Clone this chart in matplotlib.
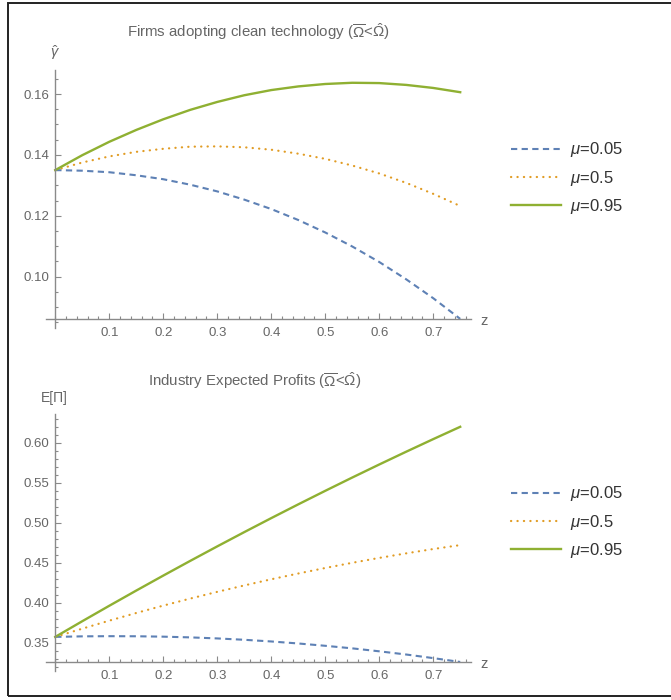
import matplotlib.pyplot as plt
from matplotlib.patches import Rectangle
from matplotlib.ticker import MultipleLocator

plt.rcParams["font.family"] = ["Liberation Sans", "DejaVu Sans"]
plt.rcParams["mathtext.fontset"] = "custom"
plt.rcParams["mathtext.rm"] = "Liberation Sans"
plt.rcParams["mathtext.it"] = "Liberation Sans:italic"

# ── Data ─────────────────────────────────────────────────────────────────────
z = [0.00, 0.05, 0.10, 0.15, 0.20, 0.25, 0.30, 0.35,
     0.40, 0.45, 0.50, 0.55, 0.60, 0.65, 0.70, 0.75]

labels = ["$\\mu$=0.05", "$\\mu$=0.5", "$\\mu$=0.95"]

# Firms adopting clean technology
gamma_005 = [0.1350, 0.1348, 0.1343, 0.1333, 0.1320, 0.1302, 0.1280, 0.1253,
             0.1222, 0.1186, 0.1145, 0.1099, 0.1048, 0.0991, 0.0929, 0.0861]
gamma_05 = [0.1350, 0.1375, 0.1395, 0.1410, 0.1420, 0.1427, 0.1428, 0.1425,
            0.1417, 0.1404, 0.1387, 0.1365, 0.1339, 0.1308, 0.1272, 0.1232]
gamma_095 = [0.1350, 0.1399, 0.1443, 0.1482, 0.1517, 0.1548, 0.1574, 0.1596,
             0.1613, 0.1625, 0.1633, 0.1637, 0.1636, 0.1630, 0.1620, 0.1606]

# Industry expected profits
prof_005 = [0.3575, 0.3582, 0.3584, 0.3583, 0.3578, 0.3569, 0.3556, 0.3539,
            0.3518, 0.3493, 0.3464, 0.3432, 0.3395, 0.3355, 0.3310, 0.3262]
prof_05 = [0.3575, 0.3678, 0.3778, 0.3874, 0.3966, 0.4054, 0.4138, 0.4218,
           0.4295, 0.4367, 0.4436, 0.4501, 0.4562, 0.4619, 0.4673, 0.4722]
prof_095 = [0.3575, 0.3771, 0.3964, 0.4154, 0.4341, 0.4525, 0.4706, 0.4884,
            0.5059, 0.5231, 0.5400, 0.5566, 0.5729, 0.5889, 0.6046, 0.6200]

# ── Styles ───────────────────────────────────────────────────────────────────
BLUE, ORANGE, GREEN = "#5e81b5", "#e19c24", "#8fb032"
AXIS_GRAY = "#8a8a8a"
TEXT_GRAY = "#666666"
W, H = 671, 700


def px(x, y):
    """pixel (from top-left) -> figure fraction"""
    return x / W, 1 - y / H


def style_axes(ax, x0, y0, ylim, major, minor):
    ax.set_xlim(-0.017, 0.77)
    ax.set_ylim(*ylim)
    for s in ("top", "right"):
        ax.spines[s].set_visible(False)
    ax.spines["left"].set_position(("data", x0))
    ax.spines["bottom"].set_position(("data", y0))
    for s in ("left", "bottom"):
        ax.spines[s].set_color(AXIS_GRAY)
        ax.spines[s].set_linewidth(1.0)
    ax.set_xticks([0.1, 0.2, 0.3, 0.4, 0.5, 0.6, 0.7])
    ax.xaxis.set_minor_locator(MultipleLocator(0.02))
    ax.yaxis.set_major_locator(MultipleLocator(major))
    ax.yaxis.set_minor_locator(MultipleLocator(minor))
    ax.tick_params(which="both", direction="in", color=AXIS_GRAY,
                   labelcolor=TEXT_GRAY, labelsize=9.5, width=0.8)
    ax.tick_params(which="major", length=4)
    ax.tick_params(axis="x", which="major", pad=6)
    ax.tick_params(axis="y", which="major", pad=4)
    ax.tick_params(which="minor", length=2.2)
    ax.patch.set_visible(False)


def draw_lines(ax, y1, y2, y3):
    h1, = ax.plot(z, y1, color=BLUE, lw=1.5, linestyle=(0, (3.0, 2.1)))
    h2, = ax.plot(z, y2, color=ORANGE, lw=1.6, linestyle=(0, (0.1, 2.8)),
                  dash_capstyle="round")
    h3, = ax.plot(z, y3, color=GREEN, lw=1.7)
    return [h1, h2, h3]


fig = plt.figure(figsize=(W / 100, H / 100), dpi=100)

# ── Top panel ────────────────────────────────────────────────────────────────
l, b = px(46.1, 328)
ax1 = fig.add_axes([l, b, 424.9 / W, 258 / H])
style_axes(ax1, 0.0, 0.0861, (0.0831, 0.1679), 0.02, 0.005)
ax1.yaxis.set_major_formatter(lambda v, p: f"{v:.2f}")
h = draw_lines(ax1, gamma_005, gamma_05, gamma_095)
ax1.set_yticks([0.10, 0.12, 0.14, 0.16])
fig.text(*px(258.5, 32), "Firms adopting clean technology ($\\overline{\\Omega}$<$\\hat{\\Omega}$)",
         ha="center", va="center", fontsize=10.8, color=TEXT_GRAY)
fig.text(*px(55, 53), "$\\hat{\\gamma}$", ha="center", va="center",
         fontsize=10.5, color=TEXT_GRAY)
fig.text(*px(484, 321), "z", ha="center", va="center", fontsize=10.5, color=TEXT_GRAY)
ax1.legend(h, labels, loc="center left", bbox_to_anchor=px(503, 178),
           bbox_transform=fig.transFigure, frameon=False, fontsize=12,
           handlelength=3.0, handletextpad=0.5, labelspacing=0.55,
           borderpad=0, labelcolor="#333333")

# ── Bottom panel ─────────────────────────────────────────────────────────────
l, b = px(46.1, 671)
ax2 = fig.add_axes([l, b, 424.9 / W, 257 / H])
style_axes(ax2, 0.0, 0.3262, (0.3149, 0.636), 0.05, 0.01)
ax2.yaxis.set_major_formatter(lambda v, p: f"{v:.2f}")
h = draw_lines(ax2, prof_005, prof_05, prof_095)
ax2.set_yticks([0.35, 0.40, 0.45, 0.50, 0.55, 0.60])
fig.text(*px(255, 381), "Industry Expected Profits ($\\overline{\\Omega}$<$\\hat{\\Omega}$)",
         ha="center", va="center", fontsize=10.8, color=TEXT_GRAY)
fig.text(*px(54, 398), "E[Π]", ha="center", va="center",
         fontsize=10, color=TEXT_GRAY)
fig.text(*px(484, 664), "z", ha="center", va="center", fontsize=10.5, color=TEXT_GRAY)
ax2.legend(h, labels, loc="center left", bbox_to_anchor=px(503, 522),
           bbox_transform=fig.transFigure, frameon=False, fontsize=12,
           handlelength=3.0, handletextpad=0.5, labelspacing=0.55,
           borderpad=0, labelcolor="#333333")

# ── Frame around the whole figure (right edge runs off the canvas) ───────────
fig.patches.append(Rectangle(px(8, 696), (680 - 8) / W, (696 - 3) / H,
                             transform=fig.transFigure, fill=False,
                             edgecolor="#222222", linewidth=1.4))

plt.savefig("out.png", dpi=100)
